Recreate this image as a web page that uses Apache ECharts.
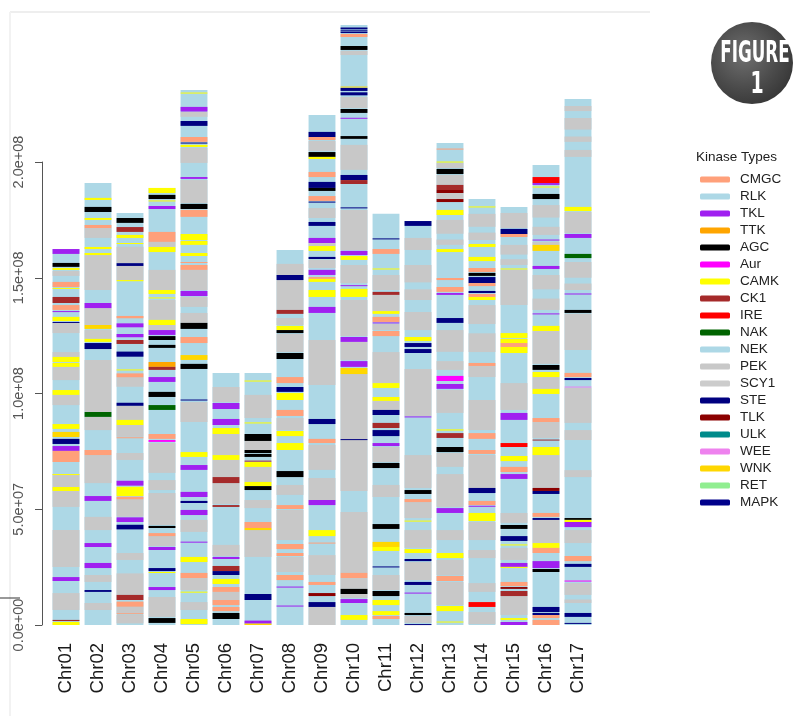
<!DOCTYPE html>
<html>
<head>
<meta charset="utf-8">
<script src="https://cdn.jsdelivr.net/npm/echarts@6/dist/echarts.min.js"></script>
<style>html,body{margin:0;padding:0;background:#fff;}#chart{width:797px;height:716px;}</style>
</head>
<body>
<div id="chart"></div>
<script>
// ---- data (positions in Mb) ----
const kinaseTypes = ['CMGC','RLK','TKL','TTK','AGC','Aur','CAMK','CK1','IRE','NAK','NEK','PEK','SCY1','STE','TLK','ULK','WEE','WNK','RET','MAPK'];
const kinaseColors = ['#FFA07A','#ADD8E6','#A020F0','#FFA500','#000000','#FF00FF','#FFFF00','#A52A2A','#FF0000','#006400','#ADD8E6','#C8C8C8','#CCCCCC','#000080','#8B0000','#008B8B','#EE82EE','#FFD700','#90EE90','#00008B'];
const chrNames = ['Chr01','Chr02','Chr03','Chr04','Chr05','Chr06','Chr07','Chr08','Chr09','Chr10','Chr11','Chr12','Chr13','Chr14','Chr15','Chr16','Chr17'];
const chrLengths = [162.4,190.9,178.0,188.8,231.1,108.9,108.9,162.0,220.3,259.2,177.6,174.5,208.2,184.0,180.6,198.7,227.2];
const yTicks = [0,50,100,150,200];

const chr01 = [['PEK',150.8,152.9],['PEK',126.1,130.5],['PEK',115.8,117.9],['PEK',105.8,111.5],['PEK',95.0,99.4],['PEK',51.0,65.2],['PEK',25.1,41.0],['PEK',6.5,13.8],
['TKL',160.3,162.4],['AGC',154.7,156.4],['CAMK',153.4,154.2],['CMGC',146.0,148.2],['CAMK',145.2,145.6],['CK1',139.1,141.7],['CMGC',136.1,138.2],['TKL',135.2,135.6],['CAMK',131.3,133.1],['STE',130.5,130.9],['CAMK',113.6,115.8],['CAMK',111.5,113.2],['CAMK',99.4,101.5],['CAMK',84.7,86.8],['WNK',81.2,83.4],['STE',78.2,80.4],['TKL',75.2,77.3],['CMGC',70.4,75.2],['CAMK',64.8,65.2],['CAMK',57.9,59.6],['TKL',19.0,20.7],['CK1',1.7,2.2],['CAMK',0,1.3]];
const chr02 = [['PEK',167.2,171.5],['PEK',144.7,159.8],['PEK',129.6,136.9],['PEK',123.6,127.4],['PEK',92.0,114.5],['PEK',84.2,89.9],['PEK',61.3,73.4],['PEK',41.0,46.7],['PEK',18.6,21.6],['PEK',6.5,9.5],
['CAMK',183.6,184.5],['AGC',178.4,180.6],['CAMK',175.0,175.8],['CMGC',171.5,172.8],['CAMK',162.4,163.3],['CAMK',159.8,160.7],['TKL',136.9,139.1],['WNK',127.9,129.6],['CAMK',122.3,123.6],['STE',119.2,121.8],['NAK',89.9,92.0],['CMGC',73.4,75.6],['TKL',53.6,55.7],['TKL',33.7,35.4],['TKL',24.6,26.8],['STE',14.3,15.1]];
const chr03 = [['PEK',156.3,163.4],['PEK',149.0,155.1],['PEK',102.9,107.0],['PEK',88.6,94.7],['PEK',81.3,86.4],['PEK',71.3,74.3],['PEK',46.8,54.3],['PEK',28.1,31.1],['PEK',13.0,22.3],['PEK',5.1,7.9],['PEK',0.7,4.3],
['AGC',173.7,175.8],['CK1',169.8,171.9],['CAMK',167.2,168.5],['CAMK',164.6,165.0],['STE',155.1,156.3],['CAMK',148.5,149.0],['CMGC',132.5,133.5],['TKL',128.6,130.3],['TKL',124.3,125.7],['CK1',121.4,123.1],['STE',115.9,118.1],['CAMK',110.0,110.4],['CMGC',107.0,108.7],['STE',94.7,96.0],['CAMK',86.4,88.6],['CMGC',80.7,81.1],['TKL',60.2,62.3],['CAMK',55.7,59.7],['CMGC',54.3,55.4],['TKL',44.5,46.5],['STE',41.3,43.3],['CK1',10.8,13.0],['CMGC',7.9,10.1],['CMGC',4.8,5.1]];
const chr04 = [['PEK',163.3,165.5],['PEK',144.7,153.4],['PEK',131.8,140.4],['PEK',127.4,129.6],['PEK',65.7,78.6],['PEK',58.3,62.6],['PEK',43.2,57.0],['PEK',34.1,38.4],['PEK',3.5,12.1],
['CAMK',186.6,188.8],['AGC',184.0,185.8],['CAMK',183.0,183.4],['TKL',179.7,181.0],['CMGC',165.5,169.8],['CAMK',161.1,163.3],['CAMK',143.0,144.7],['CAMK',141.1,141.5],['CAMK',129.6,131.8],['TKL',125.3,127.4],['AGC',123.1,124.8],['AGC',119.7,121.0],['TTK',111.5,113.6],['CK1',110.2,111.5],['TKL',105.0,107.1],['AGC',98.5,100.7],['NAK',92.9,95.0],['CMGC',80.4,82.5],['Aur',79.1,79.9],['AGC',41.9,42.8],['CMGC',38.4,39.7],['TKL',32.4,33.7],['STE',23.3,24.6],['CAMK',22.5,22.9],['TKL',15.1,16.4],['AGC',0.9,3.0]];
const chr05 = [['PEK',219.5,221.6],['PEK',199.6,206.1],['PEK',182.3,192.2],['PEK',144.7,153.4],['PEK',137.4,141.7],['PEK',130.5,134.8],['PEK',87.7,96.3],['PEK',40.2,45.4],['PEK',15.1,20.3],['PEK',6.5,9.9],
['CAMK',229.6,230.0],['TKL',221.8,223.8],['STE',215.6,217.7],['CMGC',208.7,210.8],['STE',208.0,208.4],['CAMK',206.5,207.4],['TKL',192.7,193.5],['AGC',179.7,181.9],['CMGC',176.3,179.3],['CAMK',166.3,168.9],['CAMK',164.2,165.9],['CAMK',159.4,160.7],['CMGC',156.4,156.8],['CMGC',153.4,155.5],['TKL',142.1,144.3],['AGC',127.9,130.5],['CMGC',121.8,124.4],['WNK',114.5,116.6],['AGC',110.6,112.8],['STE',97.0,97.4],['CAMK',72.6,74.7],['TKL',67.0,69.1],['TKL',55.3,57.5],['STE',52.7,53.6],['TKL',47.5,49.7],['TKL',35.6,36.0],['CAMK',27.2,29.4],['CMGC',20.3,22.5],['CAMK',14.0,14.4],['CAMK',0.4,2.6]];
const chr06 = [['PEK',96.3,102.8],['PEK',73.4,82.5],['PEK',63.9,71.3],['PEK',52.3,61.3],['PEK',29.8,34.6],['PEK',10.8,14.3],
['TKL',93.3,95.9],['TKL',86.4,89.0],['CAMK',82.5,85.1],['CAMK',71.3,73.4],['CK1',61.3,63.9],['CK1',51.0,51.8],['TKL',28.5,29.4],['CK1',23.3,25.5],['STE',21.6,23.3],['CAMK',17.7,19.9],['CMGC',14.3,16.4],['CMGC',8.6,10.8],['CMGC',6.0,7.8],['AGC',2.6,5.2]];
const chr07 = [['PEK',89.4,99.4],['PEK',75.6,79.5],['PEK',61.8,68.3],['PEK',50.5,54.0],['PEK',29.4,41.0],
['CAMK',105.2,105.6],['CAMK',87.1,87.5],['AGC',79.5,82.5],['AGC',74.3,75.6],['AGC',72.6,73.9],['CK1',70.6,71.0],['CAMK',68.3,70.4],['CAMK',60.0,61.8],['AGC',58.3,60.0],['CMGC',41.9,44.5],['WNK',41.0,41.9],['STE',10.8,13.4],['TKL',0.6,1.9],['WNK',0,0.6]];
const chr08 = [['PEK',151.2,156.0],['PEK',136.1,149.0],['PEK',129.6,132.6],['PEK',117.9,125.7],['PEK',84.2,89.4],['PEK',56.2,60.5],['PEK',36.7,49.7],['PEK',22.9,29.4],
['STE',149.0,151.2],['CK1',134.4,136.1],['CAMK',127.4,129.2],['AGC',126.1,127.4],['AGC',114.9,117.5],['CMGC',104.5,107.1],['STE',100.7,102.8],['CAMK',97.2,100.2],['CMGC',90.3,92.9],['CAMK',81.6,83.8],['CAMK',75.6,78.6],['AGC',63.9,66.5],['CMGC',50.1,51.8],['CMGC',32.8,35.0],['CMGC',29.8,31.1],['CMGC',19.4,21.6],['TKL',16.2,16.6],['TKL',8.0,8.4]];
const chr09 = [['PEK',204.8,209.1],['PEK',175.8,180.1],['PEK',163.7,165.0],['PEK',154.2,157.7],['PEK',103.7,123.1],['PEK',67.0,77.8],['PEK',54.0,63.5],['PEK',21.6,30.2],['PEK',0,7.8],
['STE',210.8,213.0],['CMGC',209.5,210.8],['AGC',202.2,204.3],['CAMK',201.3,202.2],['CMGC',193.5,195.7],['STE',188.8,191.4],['AGC',187.5,188.8],['CMGC',183.2,185.3],['STE',182.5,182.9],['STE',172.4,174.1],['TKL',165.0,167.2],['CAMK',161.6,163.7],['STE',158.1,159.0],['TKL',151.2,153.4],['CMGC',149.5,150.3],['CAMK',148.2,149.5],['CAMK',141.7,144.7],['TKL',134.8,137.4],['STE',86.8,89.0],['CMGC',78.6,80.4],['TKL',51.8,54.0],['CAMK',38.4,41.0],['CMGC',35.2,35.6],['CMGC',17.3,18.6],['TLK',12.5,13.8],['STE',7.8,9.9]];
const chr10 = [['PEK',246.2,248.0],['PEK',223.3,228.1],['PEK',196.6,207.4],['PEK',162.0,179.3],['PEK',147.7,155.5],['PEK',124.8,140.4],['PEK',114.5,122.3],['PEK',57.9,108.4],['PEK',22.5,48.8],['PEK',15.6,20.3],['PEK',11.7,13.4],
['STE',257.3,258.1],['STE',256.6,256.9],['STE',255.7,256.3],['CMGC',254.0,255.3],['AGC',248.4,250.1],['WNK',232.2,232.6],['STE',230.7,232.0],['STE',228.8,230.1],['AGC',221.2,222.9],['TKL',218.8,219.1],['AGC',210.0,211.2],['STE',192.2,194.4],['CK1',190.5,192.2],['STE',180.0,180.4],['TKL',159.8,161.6],['CAMK',157.7,159.4],['TKL',146.4,146.8],['CAMK',141.7,145.2],['TKL',122.3,124.4],['TKL',111.5,114.0],['WNK',108.4,111.0],['STE',79.9,80.3],['CMGC',20.3,22.5],['AGC',13.4,15.6],['TKL',9.5,11.2],['CAMK',2.2,4.3]];
const chr11 = [['PEK',144.7,151.2],['PEK',135.6,142.6],['PEK',127.4,130.0],['PEK',104.5,117.9],['PEK',92.9,96.8],['PEK',70.4,76.9],['PEK',55.3,60.5],['PEK',15.1,21.6],
['STE',166.6,167.0],['CMGC',160.3,162.4],['CAMK',153.6,154.0],['CK1',142.6,143.9],['CAMK',134.4,135.6],['CMGC',130.9,133.1],['TKL',130.3,130.7],['CMGC',124.8,127.0],['CAMK',102.4,104.5],['CAMK',96.8,98.5],['STE',90.7,92.9],['CK1',85.1,87.3],['STE',81.6,84.2],['TKL',77.3,78.6],['AGC',67.8,70.0],['AGC',41.5,43.6],['WNK',33.7,35.9],['CAMK',32.0,33.7],['STE',24.9,25.3],['AGC',12.5,14.7],['CAMK',8.6,10.8],['CAMK',4.3,6.0],['CMGC',2.6,3.9]];
const chr12 = [['PEK',162.0,167.2],['PEK',148.0,155.5],['PEK',140.4,145.0],['PEK',127.4,135.2],['PEK',90.3,110.6],['PEK',59.2,73.4],['PEK',46.2,53.1],['PEK',33.3,41.0],['PEK',19.4,27.2],['PEK',0.9,3.9],
['STE',172.4,174.5],['CAMK',122.7,124.4],['STE',120.1,121.8],['STE',117.5,119.2],['TKL',89.7,90.1],['AGC',56.6,58.3],['CMGC',53.1,54.4],['CAMK',44.7,45.1],['CAMK',31.1,32.8],['STE',27.6,28.5],['STE',17.3,18.6],['TKL',13.6,14.0],['AGC',4.3,5.2],['STE',0,0.4]];
const chr13 = [['PEK',197.4,199.6],['PEK',190.1,194.4],['PEK',184.0,186.6],['PEK',169.0,175.0],['PEK',164.2,166.5],['PEK',118.0,127.4],['PEK',110.2,114.0],['PEK',91.6,101.5],['PEK',68.3,74.3],['PEK',51.0,65.2],['PEK',36.7,41.0],['PEK',21.6,28.1],['PEK',8.6,18.6],
['CMGC',205.4,205.8],['CAMK',199.8,200.2],['AGC',194.8,197.0],['CK1',187.9,190.1],['TLK',186.6,187.9],['TLK',182.7,184.0],['CAMK',177.1,179.3],['CAMK',161.1,162.4],['CMGC',149.0,149.9],['CMGC',143.9,146.0],['TKL',142.6,143.4],['STE',130.5,132.6],['Aur',105.4,107.6],['TKL',102.0,104.1],['CAMK',84.0,84.5],['CK1',80.8,82.9],['AGC',74.7,76.9],['TKL',48.4,50.5],['CAMK',28.9,31.1],['CMGC',19.0,21.2],['CAMK',6.0,8.2],['CAMK',1.1,1.5]];
const chr14 = [['PEK',172.0,177.6],['PEK',166.3,169.5],['PEK',130.0,138.2],['PEK',117.9,126.0],['PEK',107.1,111.9],['PEK',84.2,97.2],['PEK',59.2,73.4],['PEK',36.7,44.5],['PEK',28.9,32.4],['PEK',14.3,18.1],['PEK',0.4,5.6],
['CAMK',180.4,180.8],['CAMK',163.3,164.6],['CAMK',157.2,159.0],['CMGC',152.5,154.2],['AGC',150.8,152.1],['STE',147.7,150.3],['CMGC',146.4,147.7],['STE',143.4,144.3],['CMGC',141.7,143.0],['CAMK',140.4,141.7],['CMGC',111.9,113.2],['CMGC',80.4,82.9],['CMGC',73.9,75.6],['STE',57.0,59.2],['CMGC',51.8,53.6],['TKL',51.2,51.5],['CAMK',44.9,48.4],['IRE',7.8,9.9]];
const chr15 = [['PEK',171.5,178.0],['PEK',160.0,164.2],['PEK',155.5,158.0],['PEK',138.2,153.4],['PEK',92.9,104.5],['PEK',44.1,48.4],['PEK',28.1,33.3],['PEK',4.3,12.5],
['STE',168.9,171.1],['CMGC',167.6,168.9],['CAMK',153.6,154.0],['CAMK',124.0,126.1],['CAMK',121.8,123.6],['CMGC',120.1,121.8],['CAMK',117.5,120.1],['TKL',88.6,91.6],['IRE',76.9,78.6],['CAMK',70.8,73.0],['CMGC',66.1,68.3],['TKL',63.1,65.2],['AGC',41.5,43.2],['STE',36.3,38.4],['CAMK',34.4,34.8],['TKL',25.1,26.8],['CAMK',24.7,25.1],['CMGC',16.8,18.6],['TLK',15.6,16.4],['CK1',12.5,14.7],['CAMK',2.2,3.0],['TKL',0,1.3]];
const chr16 = [['PEK',176.0,181.4],['PEK',168.5,172.0],['PEK',164.2,165.5],['PEK',145.0,151.2],['PEK',136.1,141.0],['PEK',112.8,127.0],['PEK',102.0,107.1],['PEK',80.8,87.7],['PEK',59.2,73.4],['PEK',35.4,45.4],
['IRE',190.9,193.5],['TKL',190.1,190.9],['CAMK',189.0,189.4],['AGC',184.0,186.2],['TKL',166.1,166.5],['WNK',161.6,164.2],['TKL',153.8,155.1],['TKL',134.2,134.6],['CAMK',127.0,129.2],['AGC',110.2,112.3],['CAMK',107.1,109.3],['CAMK',99.8,102.0],['CMGC',87.7,89.4],['CK1',79.7,80.1],['CAMK',73.4,76.9],['TLK',57.9,59.2],['STE',56.6,57.9],['CMGC',46.7,48.4],['STE',45.4,46.2],['CAMK',33.3,35.4],['CMGC',31.1,33.3],['TKL',24.6,27.6],['AGC',22.9,24.2],['STE',5.6,7.8],['STE',4.3,5.2],['CMGC',3.0,4.3],['CMGC',0,2.2]];
const chr17 = [['PEK',222.0,224.2],['PEK',214.0,219.0],['PEK',208.7,211.0],['PEK',202.2,205.2],['PEK',169.3,178.4],['PEK',150.0,156.8],['PEK',144.7,147.5],['PEK',118.8,134.4],['PEK',87.3,102.4],['PEK',79.9,84.2],['PEK',63.9,66.9],['PEK',35.4,41.0],['PEK',13.0,18.1],['PEK',9.5,11.0],
['CAMK',178.8,180.6],['TKL',167.2,168.9],['NAK',158.5,160.3],['TKL',142.8,143.2],['AGC',134.8,136.1],['CMGC',107.1,108.9],['STE',105.8,106.7],['WEE',102.6,103.0],['AGC',45.4,46.2],['CAMK',44.5,45.4],['TKL',42.3,44.5],['CMGC',27.6,29.8],['STE',25.1,26.4],['Aur',18.8,19.2],['STE',3.5,5.2],['STE',0.6,0.9]];
const chrBands = [chr01,chr02,chr03,chr04,chr05,chr06,chr07,chr08,chr09,chr10,chr11,chr12,chr13,chr14,chr15,chr16,chr17];

// ---- build items: [chrIndex, lo, hi, typeIndex] ----
const items = [];
chrLengths.forEach((len, i) => items.push([i, 0, len, kinaseTypes.indexOf('RLK')]));
chrBands.forEach((bands, i) => bands.filter(b => b[0] === 'PEK').forEach(b => items.push([i, b[1], b[2], kinaseTypes.indexOf('PEK')])));
chrBands.forEach((bands, i) => bands.filter(b => b[0] !== 'PEK').forEach(b => items.push([i, b[1], b[2], kinaseTypes.indexOf(b[0])])));

function sciLabel(v) {
  const s = (v * 1e6).toExponential(1);
  const parts = s.split('e');
  const sign = parts[1][0];
  return parts[0] + 'e' + sign + parts[1].slice(1).padStart(2, '0');
}

const chart = echarts.init(document.getElementById('chart'), null, {renderer: 'canvas'});
const FONT = 'Liberation Sans, Arial, sans-serif';
const option = {
  animation: false,
  backgroundColor: '#ffffff',
  grid: [
    {left: 50, width: 544, top: 23.1, height: 601.9},
    {left: 42, width: 1, top: 162, height: 463}
  ],
  xAxis: [
    {gridIndex: 0, type: 'category', data: chrNames, axisLine: {show: false}, axisTick: {show: false}, splitLine: {show: false},
     axisLabel: {rotate: 90, fontSize: 18.5, margin: 18, color: '#1a1a1a', fontFamily: FONT, interval: 0}},
    {gridIndex: 1, type: 'value', show: false}
  ],
  yAxis: [
    {gridIndex: 0, type: 'value', min: 0, max: 260, show: false},
    {gridIndex: 1, type: 'value', min: yTicks[0], max: yTicks[yTicks.length - 1], interval: 50,
     axisLine: {show: true, lineStyle: {color: '#555', width: 1}},
     axisTick: {show: true, length: 7, lineStyle: {color: '#555', width: 1}},
     splitLine: {show: false},
     axisLabel: {rotate: 90, margin: 16, fontSize: 14.5, color: '#555', fontFamily: FONT, formatter: sciLabel}}
  ],
  legend: {
    orient: 'vertical', left: 695, top: 166, itemWidth: 30, itemHeight: 6, itemGap: 0,
    icon: 'roundRect', selectedMode: false, data: kinaseTypes,
    textStyle: {fontSize: 13.5, lineHeight: 17, color: '#222', fontFamily: FONT, padding: [0, 0, 0, 5]}
  },
  graphic: [
    {type: 'line', shape: {x1: 10, y1: 12, x2: 650, y2: 12}, style: {stroke: '#eeeeee', lineWidth: 2}, silent: true},
    {type: 'line', shape: {x1: 10, y1: 12, x2: 10, y2: 716}, style: {stroke: '#f2f2f2', lineWidth: 2}, silent: true},
    {type: 'line', shape: {x1: 0, y1: 598, x2: 20, y2: 598}, style: {stroke: '#333', lineWidth: 1}, silent: true},
    {type: 'text', left: 696, top: 150, style: {text: 'Kinase Types', fontSize: 13.5, fill: '#222', fontFamily: FONT}},
    {type: 'circle', shape: {cx: 752, cy: 63, r: 41}, silent: true,
     style: {fill: {type: 'radial', x: 0.4, y: 0.4, r: 0.7, colorStops: [{offset: 0, color: '#707070'}, {offset: 0.6, color: '#4a4a4a'}, {offset: 1, color: '#333'}]}}},
    {type: 'text', x: 755, y: 54, scaleX: 0.62, silent: true,
     style: {text: 'FIGURE', fontSize: 30, fontWeight: 'bold', fill: '#fff', fontFamily: 'DejaVu Sans Condensed, DejaVu Sans, sans-serif', align: 'center', verticalAlign: 'middle'}},
    {type: 'text', x: 757, y: 85, scaleX: 0.7, silent: true,
     style: {text: '1', fontSize: 30, fontWeight: 'bold', fill: '#fff', fontFamily: 'DejaVu Sans Condensed, DejaVu Sans, sans-serif', align: 'center', verticalAlign: 'middle'}}
  ],
  series: [
    {
      type: 'custom', xAxisIndex: 0, yAxisIndex: 0, silent: true, clip: false,
      dimensions: ['chr', 'lo', 'hi', 'type'],
      encode: {x: 0, y: [1, 2]},
      data: items,
      renderItem: function (params, api) {
        const idx = api.value(0), lo = api.value(1), hi = api.value(2), t = api.value(3);
        const top = api.coord([idx, hi]);
        const bot = api.coord([idx, lo]);
        const bw = api.size([1, 0])[0] * 0.84;
        return {type: 'rect', shape: {x: top[0] - bw / 2, y: top[1], width: bw, height: Math.max(bot[1] - top[1], 1)},
                style: {fill: kinaseColors[t]}};
      }
    }
  ].concat(kinaseTypes.map((t, i) => ({name: t, type: 'line', data: [], xAxisIndex: 0, yAxisIndex: 0, color: kinaseColors[i], showSymbol: false})))
};
chart.setOption(option);
</script>
</body>
</html>
